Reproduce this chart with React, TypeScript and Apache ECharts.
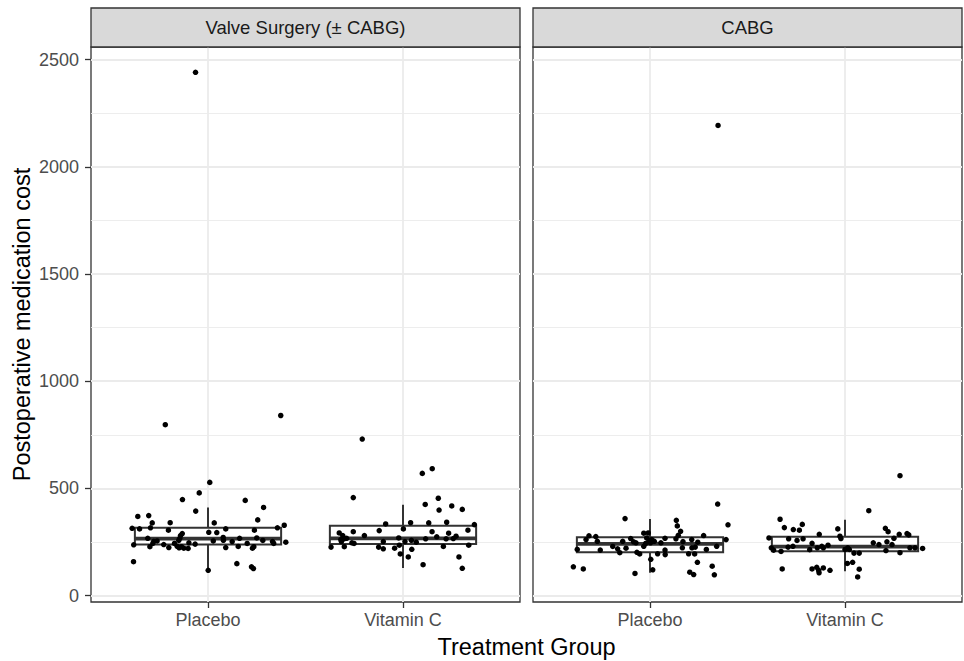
import { useEffect, useRef } from "react";
import * as echarts from "echarts";

const categories = ["Placebo", "Vitamin C"];
const facets = ["Valve Surgery (± CABG)", "CABG"];
const yTicks = [0, 500, 1000, 1500, 2000, 2500];
const yMinorTicks = [250, 750, 1250, 1750, 2250];
const xTitle = "Treatment Group";
const yTitle = "Postoperative medication cost";

// Valve Surgery (± CABG) — Placebo (jittered x, y)
const valvePlaceboX = [1.009, 0.955, 0.869, 1.191, 1.285, 0.937, 0.64, 0.696, 1.255, 0.714, 0.806, 1.032, 1.391, 0.611, 0.649, 0.705, 0.797, 1.091, 1.238, 1.356, 1.004, 1.045, 0.868, 0.859, 0.691, 0.855, 1.078, 1.162, 1.25, 0.722, 0.739, 0.85, 1.027, 1.079, 1.124, 1.281, 1.331, 1.399, 0.619, 0.717, 0.773, 0.828, 0.902, 0.934, 1.337, 0.702, 0.799, 0.842, 0.852, 0.864, 0.876, 0.898, 1.091, 1.155, 1.201, 1.228, 1.235, 0.618, 1.001, 1.148, 1.223, 1.233, 0.781, 1.373, 0.936];
const valvePlaceboY = [528, 479, 448, 444, 411, 394, 369, 373, 353, 339, 340, 339, 328, 314, 311, 316, 305, 311, 305, 316, 295, 294, 289, 280, 267, 267, 271, 267, 269, 253, 255, 257, 255, 258, 252, 257, 252, 249, 237, 243, 238, 243, 246, 240, 243, 228, 224, 230, 223, 228, 221, 220, 224, 229, 243, 221, 228, 158, 118, 149, 134, 126, 797, 840, 2441];
// Valve Surgery (± CABG) — Vitamin C
const valveVitCX = [2.099, 2.15, 1.745, 2.114, 2.181, 2.185, 2.25, 2.304, 1.911, 2.039, 2.132, 2.224, 2.366, 2.002, 1.878, 1.745, 1.673, 1.691, 1.802, 2.149, 2.234, 2.333, 2.173, 2.272, 1.681, 1.697, 1.711, 1.978, 2.116, 2.221, 2.258, 1.684, 1.738, 1.749, 1.899, 2.01, 2.043, 2.068, 1.631, 1.699, 1.875, 1.899, 1.957, 1.981, 2.207, 2.337, 1.986, 2.045, 2.027, 2.103, 2.287, 2.304, 1.791];
const valveVitCY = [570, 592, 457, 425, 454, 399, 418, 402, 334, 340, 339, 342, 331, 311, 303, 298, 292, 280, 280, 298, 291, 305, 274, 277, 261, 265, 267, 269, 265, 265, 266, 252, 246, 243, 252, 252, 258, 249, 226, 228, 226, 218, 221, 235, 229, 235, 194, 216, 180, 144, 180, 127, 730];
// CABG — Placebo
const cabgPlaceboX = [1.347, 1.4, 0.872, 1.135, 1.14, 1.157, 1.145, 1.133, 1.275, 0.687, 0.722, 0.672, 0.73, 0.86, 0.901, 0.916, 0.968, 0.991, 0.983, 0.995, 1.009, 0.978, 1.002, 1.022, 1.056, 1.077, 1.169, 1.214, 1.245, 1.39, 0.968, 0.928, 0.809, 0.834, 0.877, 0.627, 0.745, 1.077, 1.166, 1.215, 1.232, 1.289, 1.342, 0.845, 0.933, 0.947, 1.039, 1.078, 1.198, 1.229, 1.004, 1.243, 0.607, 0.658, 0.923, 1.014, 1.204, 1.224, 1.319, 1.33, 1.349];
const cabgPlaceboY = [427, 330, 359, 351, 325, 300, 281, 265, 280, 279, 275, 261, 253, 253, 266, 251, 291, 292, 269, 257, 261, 243, 246, 253, 246, 267, 252, 261, 249, 261, 230, 246, 229, 218, 221, 215, 212, 212, 223, 223, 226, 215, 230, 200, 202, 194, 195, 191, 195, 194, 169, 155, 134, 124, 103, 120, 109, 98, 137, 97, 2193];
// CABG — Vitamin C
const cabgVitCX = [2.122, 1.667, 1.689, 1.735, 1.766, 1.781, 1.963, 2.207, 2.221, 2.318, 2.327, 2.278, 1.868, 1.61, 1.974, 1.979, 1.711, 1.754, 1.785, 2.251, 1.831, 2.145, 2.174, 2.215, 2.241, 1.622, 1.634, 1.708, 1.733, 1.819, 1.858, 1.881, 1.889, 1.913, 1.672, 2.0, 2.014, 2.022, 2.046, 2.073, 2.21, 2.282, 2.333, 2.359, 2.398, 2.012, 2.039, 2.073, 2.065, 1.678, 1.831, 1.855, 1.865, 1.867, 1.889, 1.923, 2.282];
const cabgVitCY = [396, 356, 317, 308, 305, 332, 311, 314, 298, 289, 283, 286, 286, 269, 277, 266, 265, 257, 265, 267, 244, 246, 238, 251, 238, 223, 212, 226, 230, 214, 223, 230, 223, 235, 206, 215, 223, 215, 198, 198, 210, 200, 223, 223, 220, 150, 155, 123, 87, 124, 124, 132, 117, 106, 129, 118, 559];

// Box statistics: [lower whisker, Q1, median, Q3, upper whisker]
const valvePlaceboBox = [118, 238, 266, 316, 411];
const valveVitCBox = [129, 241, 267, 326, 424];
const cabgPlaceboBox = [106, 202, 241, 272, 357];
const cabgVitCBox = [113, 207, 228, 274, 354];

const FONT = "'Liberation Sans', Arial, Helvetica, sans-serif";
const GRID_TOP = 47;
const GRID_H = 555;
const GRID_W = 429;
const GRID_LEFTS = [91, 533];
const Y_MIN = -30;
const Y_MAX = 2559;

const toPairs = (xs: number[], ys: number[]) => xs.map((x, i) => [x, ys[i]]);

export default function App() {
  const ref = useRef<HTMLDivElement>(null);

  useEffect(() => {
    document.body.style.margin = "0";
    const chart = echarts.init(ref.current!, null, { renderer: "svg" });

    const xAxisFor = (gridIndex: number) => ({
      type: "value",
      gridIndex,
      min: 0.4,
      max: 2.6,
      axisLine: { show: false, onZero: false },
      axisTick: {
        show: true,
        length: 6,
        customValues: [1, 2],
        lineStyle: { color: "#333333", width: 1.3 },
      },
      axisLabel: {
        customValues: [1, 2],
        formatter: (v: number) => categories[Math.round(v) - 1] ?? "",
        color: "#4D4D4D",
        fontSize: 18,
        fontFamily: FONT,
        margin: 9,
      },
      splitLine: { show: true, lineStyle: { color: "#EBEBEB", width: 1.8 } },
    });

    const yAxisMajor = (gridIndex: number, showLabels: boolean) => ({
      type: "value",
      gridIndex,
      min: Y_MIN,
      max: Y_MAX,
      axisLine: { show: false, onZero: false },
      axisTick: {
        show: showLabels,
        length: 6,
        customValues: yTicks,
        lineStyle: { color: "#333333", width: 1.3 },
      },
      axisLabel: {
        show: showLabels,
        customValues: yTicks,
        formatter: (v: number) => String(Math.round(v)),
        color: "#4D4D4D",
        fontSize: 18,
        fontFamily: FONT,
        margin: 12,
      },
      splitLine: { show: true, lineStyle: { color: "#EBEBEB", width: 1.8 } },
    });

    const yAxisMinor = (gridIndex: number) => ({
      type: "value",
      gridIndex,
      min: Y_MIN,
      max: Y_MAX,
      position: "left",
      axisLine: { show: false, onZero: false },
      axisTick: { show: false, customValues: yMinorTicks },
      axisLabel: { show: false },
      splitLine: { show: true, lineStyle: { color: "#EBEBEB", width: 0.9 } },
    });

    const renderBox = (params: any, api: any) => {
      const x = api.value(0);
      const low = api.coord([x, api.value(1)]);
      const q1 = api.coord([x, api.value(2)]);
      const med = api.coord([x, api.value(3)]);
      const q3 = api.coord([x, api.value(4)]);
      const high = api.coord([x, api.value(5)]);
      const half = api.size([0.75, 0])[0] / 2;
      const cx = q1[0];
      const stroke = "#333333";
      return {
        type: "group",
        children: [
          {
            type: "line",
            shape: { x1: cx, y1: high[1], x2: cx, y2: q3[1] },
            style: { stroke, lineWidth: 2 },
          },
          {
            type: "line",
            shape: { x1: cx, y1: q1[1], x2: cx, y2: low[1] },
            style: { stroke, lineWidth: 2 },
          },
          {
            type: "rect",
            shape: { x: cx - half, y: q3[1], width: half * 2, height: q1[1] - q3[1] },
            style: { fill: "#FFFFFF", stroke, lineWidth: 2 },
          },
          {
            type: "line",
            shape: { x1: cx - half, y1: med[1], x2: cx + half, y2: med[1] },
            style: { stroke, lineWidth: 3.8 },
          },
        ],
      };
    };

    const boxSeries = (gridIndex: number, boxes: number[][]) => ({
      type: "custom",
      xAxisIndex: gridIndex,
      yAxisIndex: gridIndex,
      z: 2,
      encode: { x: 0, y: [1, 2, 3, 4, 5] },
      renderItem: renderBox,
      data: boxes.map((b, i) => [i + 1, ...b]),
    });

    const pointSeries = (gridIndex: number, name: string, data: number[][]) => ({
      type: "scatter",
      name,
      xAxisIndex: gridIndex,
      yAxisIndex: gridIndex,
      z: 3,
      symbolSize: 5.5,
      itemStyle: { color: "#000000", opacity: 1 },
      data,
    });

    const strips = facets.flatMap((label, i) => [
      {
        type: "rect",
        shape: { x: GRID_LEFTS[i], y: 8, width: GRID_W, height: GRID_TOP - 8 },
        style: { fill: "#D9D9D9", stroke: "#333333", lineWidth: 1.3 },
        z: 10,
      },
      {
        type: "text",
        x: GRID_LEFTS[i] + GRID_W / 2,
        y: (8 + GRID_TOP) / 2,
        z: 11,
        style: {
          text: label,
          fill: "#1A1A1A",
          font: `18.5px ${FONT}`,
          align: "center",
          verticalAlign: "middle",
          textAlign: "center",
          textVerticalAlign: "middle",
        },
      },
    ]);

    const option: any = {
      animation: false,
      backgroundColor: "#FFFFFF",
      grid: GRID_LEFTS.map((left) => ({
        left,
        top: GRID_TOP,
        width: GRID_W,
        height: GRID_H,
        show: true,
        borderColor: "#333333",
        borderWidth: 1.3,
        backgroundColor: "transparent",
        containLabel: false,
      })),
      xAxis: [xAxisFor(0), xAxisFor(1)],
      yAxis: [yAxisMajor(0, true), yAxisMajor(1, false), yAxisMinor(0), yAxisMinor(1)],
      series: [
        boxSeries(0, [valvePlaceboBox, valveVitCBox]),
        boxSeries(1, [cabgPlaceboBox, cabgVitCBox]),
        pointSeries(0, "Valve Placebo", toPairs(valvePlaceboX, valvePlaceboY)),
        pointSeries(0, "Valve Vitamin C", toPairs(valveVitCX, valveVitCY)),
        pointSeries(1, "CABG Placebo", toPairs(cabgPlaceboX, cabgPlaceboY)),
        pointSeries(1, "CABG Vitamin C", toPairs(cabgVitCX, cabgVitCY)),
      ],
      graphic: [
        ...strips,
        {
          type: "text",
          x: (GRID_LEFTS[0] + GRID_LEFTS[1] + GRID_W) / 2,
          y: 647,
          style: {
            text: xTitle,
            fill: "#000000",
            font: `23.5px ${FONT}`,
            align: "center",
            verticalAlign: "middle",
            textAlign: "center",
            textVerticalAlign: "middle",
          },
        },
        {
          type: "text",
          x: 22,
          y: GRID_TOP + GRID_H / 2,
          rotation: Math.PI / 2,
          style: {
            text: yTitle,
            fill: "#000000",
            font: `23.5px ${FONT}`,
            align: "center",
            verticalAlign: "middle",
            textAlign: "center",
            textVerticalAlign: "middle",
          },
        },
      ],
    };

    chart.setOption(option);
    return () => chart.dispose();
  }, []);

  return <div ref={ref} style={{ width: 964, height: 661 }} />;
}
